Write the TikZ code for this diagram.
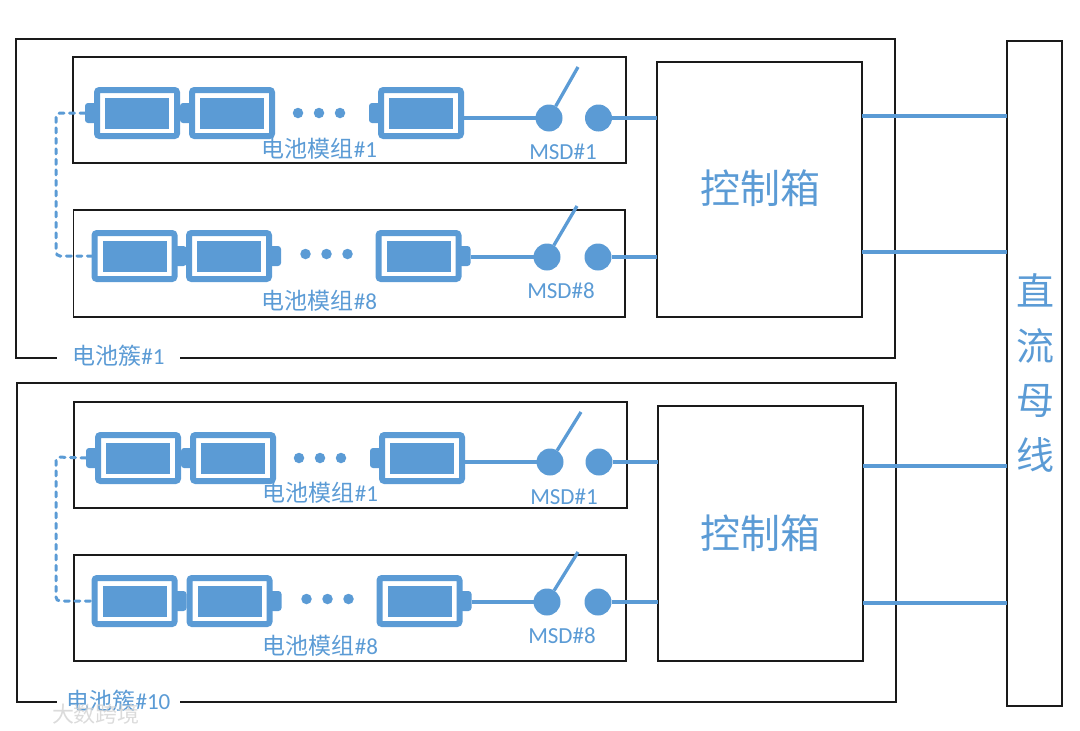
\documentclass[tikz,border=0pt]{standalone}
\usepackage{fontspec}
\setmainfont{Carlito}
\newfontfamily\cjk{Noto Sans CJK SC}
\usepackage{xcolor}
\usetikzlibrary{fit, positioning}
\definecolor{cellblue}{HTML}{5B9BD5}
\definecolor{framegray}{HTML}{1A1A1A}

\begin{document}
\begin{tikzpicture}[x=1pt, y=-1pt,
    frame/.style={draw=framegray, line width=1.8pt, inner sep=0pt, outer sep=0pt},
    battery/.style={draw=cellblue, line width=6pt, fill=white, rounded corners=2.5pt, outer sep=0pt,
        inner sep=0pt, minimum width=80pt, minimum height=46pt},
    batcell/.style={fill=cellblue, inner sep=0pt, outer sep=0pt, minimum width=64pt, minimum height=31pt},
    batcap/.style={fill=cellblue, rounded corners=3pt, inner sep=0pt, outer sep=0pt,
        minimum width=12pt, minimum height=20pt},
    pinball/.style={circle, fill=cellblue, inner sep=0pt, outer sep=0pt, minimum size=27pt},
    smalldot/.style={circle, fill=cellblue, inner sep=0pt, outer sep=0pt, minimum size=10.5pt},
    wire/.style={draw=cellblue, line width=3.3pt},
    jumper/.style={draw=cellblue, line width=3pt, dash pattern=on 5pt off 5.5pt, line cap=round, rounded corners=4pt},
    caption/.style={text=cellblue, font=\fontsize{23}{26}\selectfont, inner sep=0pt},
]
    \useasboundingbox (0,0) rectangle (1080,731);

    % clusters and bus
    \node[frame, fit={(16,39) (895,358)}] (pack1) {};
    \node[frame, fit={(17,383) (896,702)}] (pack2) {};
    \node[frame, fit={(1007,41) (1062,706)}] (bus) {};
    \node[caption, fill=white, minimum width=123pt, minimum height=20pt] (packlab1) at (118.5,356) {{\cjk\fontsize{23}{26}\selectfont 电池簇}\#1};
    \node[caption, fill=white, minimum width=123pt, minimum height=20pt] (packlab2) at (118.5,701) {{\cjk\fontsize{23}{26}\selectfont 电池簇}\#10};

    % control boxes
    \node[frame, fit={(657,62) (862,317)}] (ctrl1) {};
    \node[frame, fit={(658,406) (863,661)}] (ctrl2) {};
    \node[text=cellblue, font=\cjk\fontsize{40}{44}\selectfont] (ctrllab1) at (760,188) {控制箱};
    \node[text=cellblue, font=\cjk\fontsize{40}{44}\selectfont] (ctrllab2) at (760,533) {控制箱};
    \node[text=cellblue, align=center, inner sep=0pt, font=\cjk\fontsize{38}{54.5}\selectfont] (buslab) at (1035,373) {直\\流\\母\\线};

    % module frames
    \node[frame, fit={(73,57) (626,163)}] (mod1) {};
    \node[frame, fit={(73.5,210) (625,317)}] (mod2) {};
    \node[frame, fit={(74,402) (627,508)}] (mod3) {};
    \node[frame, fit={(74,555) (626,661)}] (mod4) {};

    % batteries
    \foreach \r/\ybat/\xa/\xb/\xc/\ca/\cb/\xd/\yd in {
        1/113/137/232/421/west/east/319/113,
        2/256/134.5/229/418.5/east/west/326.5/254,
        3/458/138/233/422/west/east/320/458,
        4/601/134.5/229.5/419.5/east/west/327.5/599}{
        \foreach \n/\xn in {1/\xa, 2/\xb, 3/\xc}{
            \node[battery] (bat\r\n) at (\xn,\ybat) {};
            \node[batcell] (cell\r\n) at (bat\r\n.center) {};
            \node[batcap, anchor=\cb] (cap\r\n) at (bat\r\n.\ca) {};
        }
        \node[smalldot] (dotb\r) at (\xd,\yd) {};
        \node[smalldot, left=10.5pt of dotb\r] (dota\r) {};
        \node[smalldot, right=10.5pt of dotb\r] (dotc\r) {};
    }

    % switches
    \foreach \r/\from/\ctl/\xs/\xu/\ys/\xt/\yt in {
        1/bat13/ctrl1/549/598.5/118/578/67,
        2/cap23/ctrl1/547/598/257/577/206,
        3/bat33/ctrl2/550/599/462/581/412,
        4/cap43/ctrl2/547/598/602/578/552}{
        \node[pinball] (pina\r) at (\xs,\ys) {};
        \node[pinball] (pinb\r) at (\xu,\ys) {};
        \coordinate (tip\r) at (\xt,\yt);
        \draw[wire] (pina\r) -- (tip\r);
        \draw[wire] (\from.east |- pina\r) -- (pina\r);
        \draw[wire] (pinb\r) -- (\ctl.west |- pinb\r);
    }

    % module labels
    \foreach \r/\tag/\xl/\yl/\xm/\ym in {
        1/1/319.5/149/563/152,
        2/8/319.5/301/561/291,
        3/1/320.5/493/564/497,
        4/8/320.5/646/562/636}{
        \node[caption] (modlab\r) at (\xl,\yl) {{\cjk\fontsize{23}{26}\selectfont 电池模组}\#\tag};
        \node[caption] (msdlab\r) at (\xm,\ym) {MSD\#\tag};
    }

    % jumpers between modules
    \coordinate (turn1) at (56,113);
    \coordinate (turn2) at (56,457);
    \draw[jumper] (cap11.west) -- (turn1) |- (bat21.west);
    \draw[jumper] (cap31.west) -- (turn2) |- (bat41.west);

    % bus feeders
    \draw[wire] (ctrl1.east |- 0,116) -- (bus.west |- 0,116);
    \draw[wire] (ctrl1.east |- 0,252) -- (bus.west |- 0,252);
    \draw[wire] (ctrl2.east |- 0,466) -- (bus.west |- 0,466);
    \draw[wire] (ctrl2.east |- 0,603) -- (bus.west |- 0,603);

    % watermark
    \node[text=gray!35, font=\cjk\fontsize{22}{24}\selectfont, inner sep=0pt, opacity=0.8] (mark) at (96,714) {大数跨境};
\end{tikzpicture}
\end{document}
